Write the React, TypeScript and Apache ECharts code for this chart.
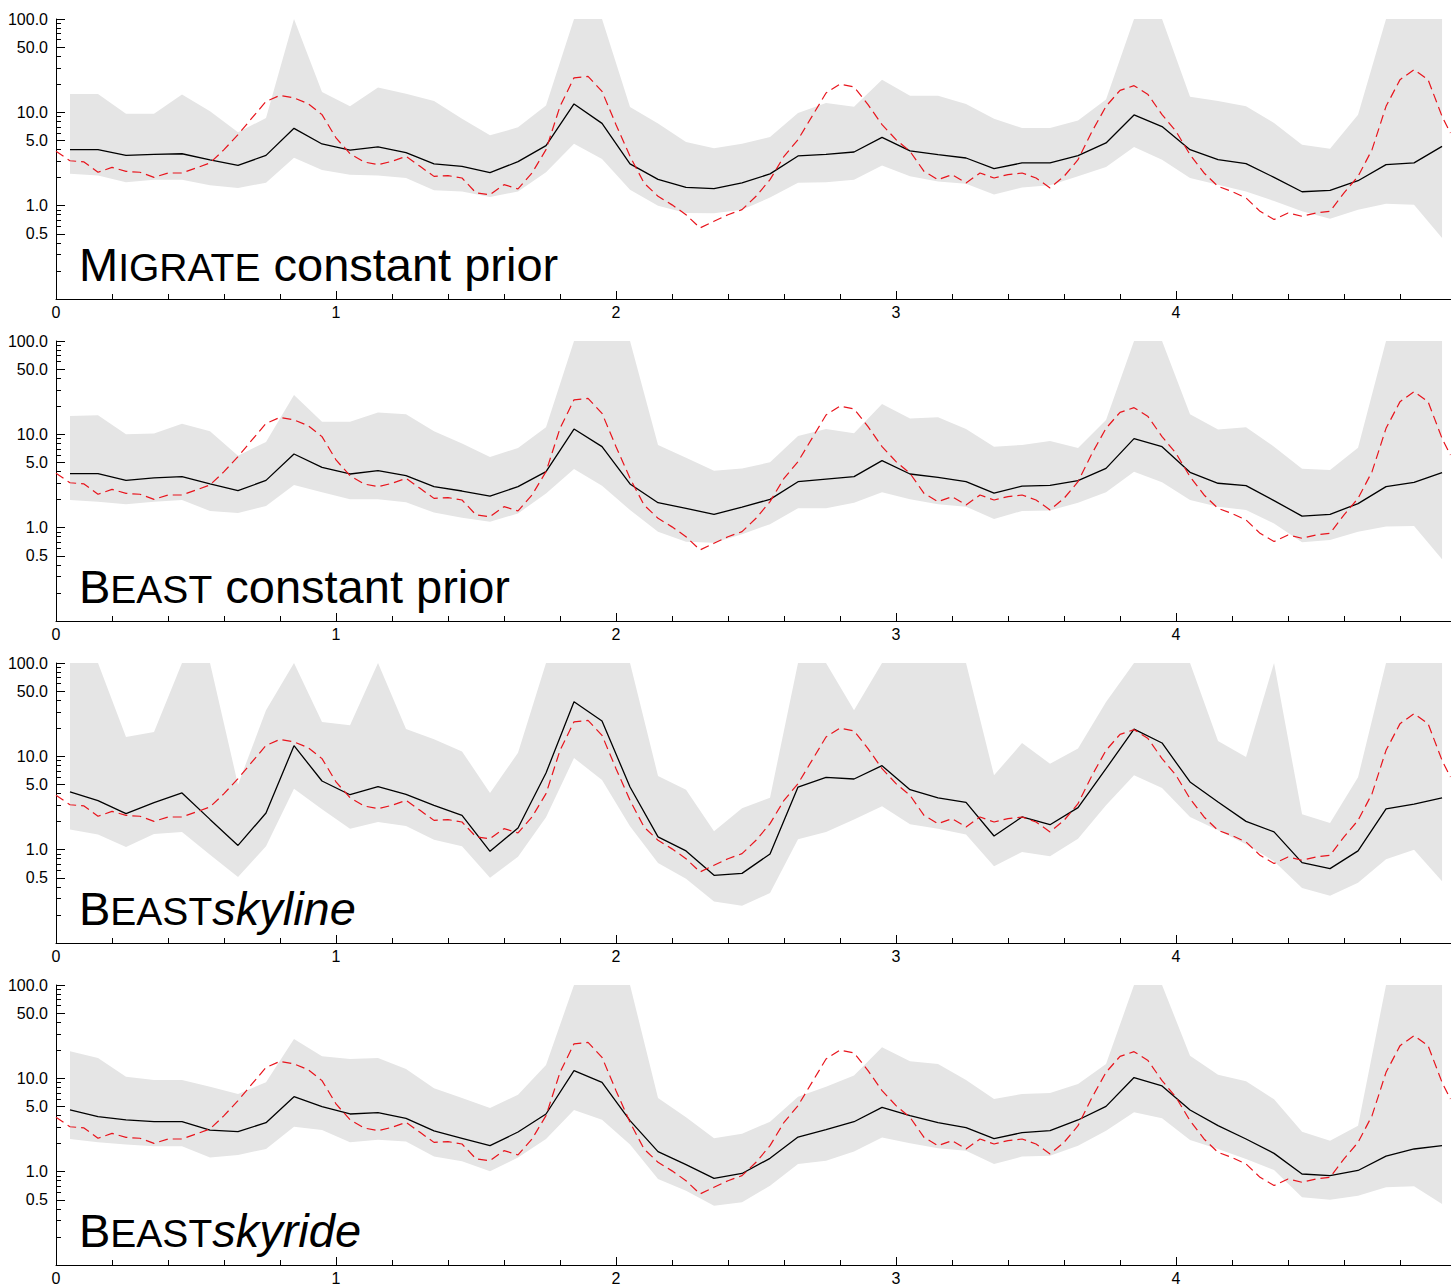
import React, { useEffect, useRef } from 'react';
import * as echarts from 'echarts';

// x positions of the posterior estimate nodes
const NODE_X = [0.05, 0.15, 0.25, 0.35, 0.45, 0.55, 0.65, 0.75, 0.85, 0.95,
  1.05, 1.15, 1.25, 1.35, 1.45, 1.55, 1.65, 1.75, 1.85, 1.95,
  2.05, 2.15, 2.25, 2.35, 2.45, 2.55, 2.65, 2.75, 2.85, 2.95,
  3.05, 3.15, 3.25, 3.35, 3.45, 3.55, 3.65, 3.75, 3.85, 3.95,
  4.05, 4.15, 4.25, 4.35, 4.45, 4.55, 4.65, 4.75, 4.85, 4.95];

// true population size (red dashed)
const TRUE_T = [0.00, 0.05, 0.10, 0.15, 0.20, 0.25, 0.30, 0.35, 0.40, 0.45,
  0.50, 0.55, 0.60, 0.65, 0.70, 0.75, 0.80, 0.85, 0.90, 0.95,
  1.00, 1.05, 1.10, 1.15, 1.20, 1.25, 1.30, 1.35, 1.40, 1.45,
  1.50, 1.55, 1.60, 1.65, 1.70, 1.75, 1.80, 1.85, 1.90, 1.95,
  2.00, 2.05, 2.10, 2.15, 2.20, 2.25, 2.30, 2.35, 2.40, 2.45,
  2.50, 2.55, 2.60, 2.65, 2.70, 2.75, 2.80, 2.85, 2.90, 2.95,
  3.00, 3.05, 3.10, 3.15, 3.20, 3.25, 3.30, 3.35, 3.40, 3.45,
  3.50, 3.55, 3.60, 3.65, 3.70, 3.75, 3.80, 3.85, 3.90, 3.95,
  4.00, 4.05, 4.10, 4.15, 4.20, 4.25, 4.30, 4.35, 4.40, 4.45,
  4.50, 4.55, 4.60, 4.65, 4.70, 4.75, 4.80, 4.85, 4.90, 4.95, 4.98];
const TRUE_V = [3.82, 3.03, 2.94, 2.28, 2.57, 2.33, 2.28, 2.01, 2.24, 2.24,
  2.53, 2.87, 3.98, 5.77, 8.7, 13.1, 15.2, 14.3, 12.4, 9.45,
  5.32, 3.6, 2.94, 2.75, 2.99, 3.38, 2.64, 2.06, 2.1, 1.98,
  1.37, 1.31, 1.68, 1.51, 2.24, 3.98, 11.6, 23.4, 24.3, 16.8,
  7.38, 3.38, 1.75, 1.26, 1.02, 0.8, 0.577, 0.68, 0.8, 0.906,
  1.26, 1.9, 3.38, 5.1, 9.06, 16.1, 20.1, 18.7, 12.1, 7.38,
  5.1, 3.82, 2.33, 1.9, 2.15, 1.75, 2.24, 1.98, 2.15, 2.24,
  1.98, 1.55, 2.06, 3.11, 6.25, 11.6, 17.2, 19.3, 15.5, 9.45,
  6.25, 3.52, 2.24, 1.61, 1.42, 1.21, 0.87, 0.71, 0.835, 0.77,
  0.835, 0.87, 1.37, 2.06, 3.98, 11.6, 22.4, 28.7, 22.4, 9.06, 6.0];

// Panel 1: MIGRATE constant prior
const MEDIAN_1 = [3.98, 3.98, 3.46, 3.55, 3.6, 3.09, 2.7, 3.46, 6.74, 4.58,
  3.94, 4.26, 3.7, 2.8, 2.64, 2.26, 2.96, 4.4, 12.3, 7.62,
  2.8, 1.91, 1.57, 1.52, 1.75, 2.19, 3.41, 3.55, 3.76, 5.4,
  3.86, 3.52, 3.24, 2.49, 2.87, 2.87, 3.43, 4.7, 9.38, 7.03,
  3.98, 3.11, 2.82, 2.01, 1.41, 1.46, 1.85, 2.75, 2.87, 4.32];
const UPPER_1 = [15.7, 15.7, 9.68, 9.68, 15.5, 10.3, 6.1, 8.7, 100, 16.5,
  11.6, 18.5, 15.8, 13.2, 8.55, 5.67, 6.9, 11.8, 100, 100,
  11.4, 7.57, 4.82, 4.11, 4.62, 5.44, 9.85, 12.6, 11.5, 22.4,
  15.1, 15.1, 12.3, 8.55, 6.8, 6.8, 8.2, 13.7, 100, 100,
  14.7, 13.2, 11.6, 7.7, 4.5, 4.08, 9.45, 100, 100, 100];
const LOWER_1 = [2.2, 2.11, 1.78, 1.89, 1.9, 1.65, 1.55, 1.76, 3.27, 2.41,
  2.15, 2.1, 1.98, 1.46, 1.42, 1.24, 1.42, 2.28, 4.62, 3.17,
  1.48, 1.0, 0.835, 0.83, 0.906, 1.22, 1.76, 1.78, 1.89, 2.7,
  2.06, 1.81, 1.72, 1.32, 1.57, 1.65, 2.06, 2.6, 4.26, 3.11,
  1.98, 1.68, 1.42, 1.12, 0.87, 0.726, 0.906, 1.05, 1.02, 0.45];

// Panel 2: BEAST constant prior
const MEDIAN_2 = [3.79, 3.79, 3.21, 3.41, 3.52, 2.94, 2.49, 3.21, 6.16, 4.43,
  3.76, 4.08, 3.61, 2.75, 2.47, 2.18, 2.75, 3.98, 11.4, 7.38,
  2.94, 1.85, 1.61, 1.39, 1.66, 2.01, 3.11, 3.32, 3.52, 5.22,
  3.76, 3.46, 3.11, 2.35, 2.79, 2.84, 3.19, 4.32, 8.99, 7.38,
  3.92, 2.99, 2.82, 1.95, 1.33, 1.39, 1.81, 2.75, 3.06, 3.88];
const UPPER_2 = [15.7, 16.0, 10.0, 10.2, 13.0, 10.8, 5.91, 8.28, 26.4, 13.6,
  13.6, 17.1, 16.4, 10.8, 8.0, 5.72, 7.14, 11.9, 100, 100,
  100, 7.69, 5.62, 4.08, 4.3, 5.01, 9.6, 11.4, 10.3, 21.1,
  14.8, 15.2, 11.4, 7.38, 7.69, 8.49, 7.14, 14.2, 100, 100,
  16.4, 11.3, 11.9, 7.38, 4.29, 4.15, 7.2, 100, 100, 100];
const LOWER_2 = [1.98, 1.9, 1.78, 1.9, 1.98, 1.51, 1.44, 1.71, 2.87, 2.39,
  2.01, 2.01, 1.87, 1.45, 1.28, 1.16, 1.42, 2.33, 4.25, 2.82,
  1.55, 0.906, 0.708, 0.69, 0.85, 1.09, 1.61, 1.61, 1.85, 2.39,
  2.01, 1.78, 1.68, 1.24, 1.51, 1.53, 1.85, 2.39, 3.98, 3.06,
  1.98, 1.68, 1.55, 1.11, 0.697, 0.738, 0.906, 1.03, 1.04, 0.458];

// Panel 3: BEAST skyline
const MEDIAN_3 = [4.15, 3.35, 2.43, 3.19, 4.05, 2.11, 1.11, 2.47, 13.0, 5.44,
  3.88, 4.73, 3.92, 2.99, 2.33, 0.96, 1.71, 6.63, 38.5, 23.9,
  4.69, 1.37, 0.97, 0.531, 0.557, 0.9, 4.69, 5.96, 5.72, 7.94,
  4.39, 3.58, 3.21, 1.4, 2.24, 1.85, 2.82, 7.38, 19.6, 13.9,
  5.31, 3.24, 2.01, 1.55, 0.726, 0.626, 0.97, 2.73, 3.08, 3.58];
const UPPER_3 = [100, 100, 16.1, 18.2, 100, 100, 4.97, 31.1, 100, 23.3,
  21.5, 100, 19.6, 15.2, 11.3, 4.05, 10.9, 100, 100, 100,
  100, 6.16, 4.39, 1.58, 2.77, 3.61, 100, 100, 31.1, 100,
  100, 100, 100, 6.26, 13.9, 8.35, 12.1, 38.2, 100, 100,
  100, 14.6, 9.84, 100, 2.39, 1.93, 5.96, 100, 100, 100];
const LOWER_3 = [1.64, 1.45, 1.07, 1.47, 1.55, 0.884, 0.509, 1.09, 4.5, 2.71,
  1.68, 1.98, 1.79, 1.28, 1.09, 0.501, 0.841, 2.22, 9.6, 5.57,
  1.78, 0.72, 0.489, 0.279, 0.251, 0.343, 1.29, 1.55, 2.1, 2.91,
  1.87, 1.68, 1.45, 0.663, 0.944, 0.849, 1.31, 2.99, 6.26, 4.58,
  2.24, 1.61, 1.14, 0.75, 0.388, 0.321, 0.443, 0.788, 1.0, 0.458];

// Panel 4: BEAST skyride
const MEDIAN_4 = [4.58, 3.88, 3.58, 3.43, 3.43, 2.79, 2.68, 3.35, 6.36, 4.97,
  4.15, 4.29, 3.73, 2.73, 2.28, 1.9, 2.66, 4.15, 12.1, 9.06,
  3.52, 1.64, 1.19, 0.849, 0.957, 1.39, 2.35, 2.82, 3.43, 4.89,
  3.98, 3.35, 2.96, 2.26, 2.62, 2.75, 3.58, 5.01, 10.2, 8.28,
  4.58, 3.11, 2.24, 1.57, 0.944, 0.906, 1.03, 1.47, 1.75, 1.9];
const UPPER_4 = [19.5, 16.5, 10.4, 9.6, 9.6, 8.14, 6.8, 9.06, 26.4, 17.2,
  16.1, 16.5, 12.6, 7.81, 6.16, 4.81, 6.68, 13.9, 100, 100,
  100, 6.16, 3.82, 2.28, 2.55, 3.43, 6.36, 8.14, 10.7, 21.5,
  15.2, 14.2, 9.6, 6.0, 6.8, 6.96, 8.69, 14.2, 100, 100,
  17.5, 10.9, 9.29, 5.96, 2.68, 2.15, 3.11, 100, 100, 100];
const LOWER_4 = [2.24, 2.06, 1.95, 1.87, 1.87, 1.42, 1.51, 1.75, 3.03, 2.79,
  2.06, 2.2, 2.1, 1.45, 1.29, 1.01, 1.42, 2.24, 4.58, 3.61,
  1.95, 0.834, 0.626, 0.432, 0.469, 0.708, 1.21, 1.31, 1.64, 2.33,
  2.01, 1.78, 1.68, 1.21, 1.45, 1.48, 1.9, 2.75, 4.32, 3.73,
  2.18, 1.75, 1.37, 1.04, 0.531, 0.501, 0.553, 0.68, 0.697, 0.45];

// tick values
const X_MAJOR = [0, 1, 2, 3, 4];
const X_MINOR = [0.2, 0.4, 0.6, 0.8, 1.2, 1.4, 1.6, 1.8, 2.2, 2.4, 2.6, 2.8,
  3.2, 3.4, 3.6, 3.8, 4.2, 4.4, 4.6, 4.8];
const Y_MAJOR = [0.5, 1, 5, 10, 50, 100];
const Y_MINOR = [0.2, 0.3, 0.4, 0.6, 0.7, 0.8, 0.9, 2, 3, 4, 6, 7, 8, 9,
  20, 30, 40, 60, 70, 80, 90];

// panel titles: [text, size kind, italic]
const TITLE_1 = [['M', 'big', false], ['IGRATE', 'small', false], [' constant prior', 'big', false]];
const TITLE_2 = [['B', 'big', false], ['EAST', 'small', false], [' constant prior', 'big', false]];
const TITLE_3 = [['B', 'big', false], ['EAST', 'small', false], ['skyline', 'big', true]];
const TITLE_4 = [['B', 'big', false], ['EAST', 'small', false], ['skyride', 'big', true]];

const PANELS = [
  { median: MEDIAN_1, upper: UPPER_1, lower: LOWER_1, title: TITLE_1 },
  { median: MEDIAN_2, upper: UPPER_2, lower: LOWER_2, title: TITLE_2 },
  { median: MEDIAN_3, upper: UPPER_3, lower: LOWER_3, title: TITLE_3 },
  { median: MEDIAN_4, upper: UPPER_4, lower: LOWER_4, title: TITLE_4 },
];

const FONT = 'Liberation Sans';
const W = 1451;
const H = 1287;
const GRID_LEFT = 56;
const GRID_TOP = 19;
const GRID_H = 280;
const PITCH = 322;
const X_MAX = 4.982;
const BIG = 47;
const SMALL = 39;

function measure(ctx: CanvasRenderingContext2D | null, text: string, size: number, italic: boolean) {
  if (!ctx) return text.length * size * 0.55;
  ctx.font = `${italic ? 'italic ' : ''}${size}px "${FONT}"`;
  return ctx.measureText(text).width;
}

export default function App() {
  const ref = useRef<HTMLDivElement>(null);

  useEffect(() => {
    if (!ref.current) return;
    const chart = echarts.init(ref.current, undefined, { renderer: 'svg' });
    const ctx = document.createElement('canvas').getContext('2d');

    const grids: any[] = [];
    const xAxes: any[] = [];
    const yAxes: any[] = [];
    const series: any[] = [];
    const graphics: any[] = [];

    PANELS.forEach((p, i) => {
      grids.push({ left: GRID_LEFT, top: GRID_TOP + PITCH * i, width: W - GRID_LEFT, height: GRID_H, containLabel: false, outerBoundsMode: 'none' });
      xAxes.push({
        type: 'value', gridIndex: i, min: 0, max: X_MAX, position: 'bottom',
        axisLine: { show: true, onZero: false, lineStyle: { color: '#000', width: 1 } },
        axisTick: { show: true, inside: true, length: 8, customValues: X_MAJOR, lineStyle: { color: '#000', width: 1 } },
        axisLabel: { show: true, customValues: X_MAJOR, formatter: (v: number) => String(Math.round(v)), fontSize: 16, fontFamily: FONT, color: '#000', margin: 5 },
        splitLine: { show: false },
      });
      xAxes.push({
        type: 'value', gridIndex: i, min: 0, max: X_MAX, position: 'bottom', offset: 0,
        axisLine: { show: false },
        axisTick: { show: true, inside: true, length: 5, customValues: X_MINOR, lineStyle: { color: '#000', width: 1 } },
        axisLabel: { show: false },
        splitLine: { show: false },
      });
      yAxes.push({
        type: 'log', logBase: 10, gridIndex: i, min: 0.1, max: 100, position: 'left',
        axisLine: { show: true, onZero: false, lineStyle: { color: '#000', width: 1 } },
        axisTick: { show: true, inside: true, length: 9, customValues: Y_MAJOR, lineStyle: { color: '#000', width: 1 } },
        axisLabel: { show: true, customValues: Y_MAJOR, formatter: (v: number) => Number(v).toFixed(1), fontSize: 16, fontFamily: FONT, color: '#000', margin: 8 },
        splitLine: { show: false },
        minorTick: { show: false },
      });
      yAxes.push({
        type: 'log', logBase: 10, gridIndex: i, min: 0.1, max: 100, position: 'left', offset: 0,
        axisLine: { show: false },
        axisTick: { show: true, inside: true, length: 5, customValues: Y_MINOR, lineStyle: { color: '#000', width: 1 } },
        axisLabel: { show: false },
        splitLine: { show: false },
        minorTick: { show: false },
      });

      const upper = p.upper;
      const lower = p.lower;
      series.push({
        type: 'custom', xAxisIndex: 2 * i, yAxisIndex: 2 * i, z: 1, silent: true,
        data: NODE_X.map((x, k) => [x, lower[k], upper[k]]),
        encode: { x: 0, y: [1, 2] },
        renderItem: (params: any, api: any) => {
          if (params.dataIndex !== 0) return null;
          const pts: number[][] = [];
          for (let k = 0; k < NODE_X.length; k++) pts.push(api.coord([NODE_X[k], upper[k]]));
          for (let k = NODE_X.length - 1; k >= 0; k--) pts.push(api.coord([NODE_X[k], lower[k]]));
          return { type: 'polygon', shape: { points: pts }, style: { fill: '#e5e5e5', stroke: null } };
        },
      });
      series.push({
        type: 'line', xAxisIndex: 2 * i, yAxisIndex: 2 * i, z: 3, silent: true,
        data: NODE_X.map((x, k) => [x, p.median[k]]),
        symbol: 'none', showSymbol: false,
        lineStyle: { color: '#000', width: 1.3 },
      });
      series.push({
        type: 'line', xAxisIndex: 2 * i, yAxisIndex: 2 * i, z: 4, silent: true,
        data: TRUE_T.map((t, k) => [t, TRUE_V[k]]),
        symbol: 'none', showSymbol: false,
        lineStyle: { color: '#e8141c', width: 1.2, type: [9, 5] },
      });

      // title
      let x = 79;
      const baseline = 281 + PITCH * i;
      p.title.forEach((part: any) => {
        const [text, kind, italic] = part;
        const size = kind === 'big' ? BIG : SMALL;
        graphics.push({
          type: 'text', x, y: baseline - 0.3465 * size, z: 20, silent: true,
          style: {
            text, fontSize: size, fontFamily: FONT, fontStyle: italic ? 'italic' : 'normal',
            fill: '#000', align: 'left', verticalAlign: 'middle',
          },
        });
        x += measure(ctx, text, size, italic);
      });
    });

    chart.setOption({
      animation: false,
      backgroundColor: '#fff',
      textStyle: { fontFamily: FONT },
      grid: grids,
      xAxis: xAxes,
      yAxis: yAxes,
      series,
      graphic: graphics,
    });

    return () => chart.dispose();
  }, []);

  return <div ref={ref} style={{ position: 'absolute', left: 0, top: 0, width: W, height: H }} />;
}
